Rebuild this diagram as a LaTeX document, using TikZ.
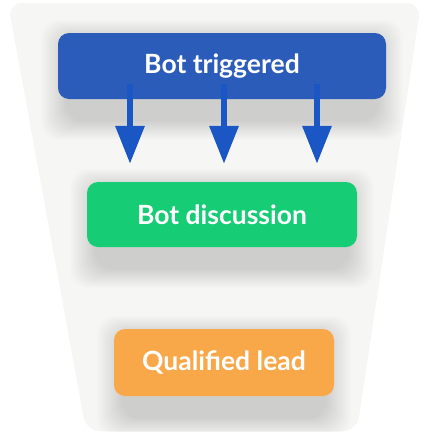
\documentclass[tikz,border=0pt]{standalone}
\usepackage{fontspec}
\setmainfont{Lato}
\usepackage{xcolor}
\usetikzlibrary{backgrounds,arrows.meta}

\definecolor{funnelgray}{HTML}{F6F6F5}
\definecolor{trigblue}{HTML}{2B5CB9}
\definecolor{arrowblue}{HTML}{1A56C4}
\definecolor{discgreen}{HTML}{16CC74}
\definecolor{leadorange}{HTML}{F8A848}

\pgfdeclarelayer{back}
\pgfsetlayers{back,background,main}

\tikzset{
  stage/.style={rectangle, rounded corners=11pt, text=white,
    font=\bfseries\fontsize{26.5}{30}\selectfont},
  haze/.style={fill=black, fill opacity=0.0075, rounded corners=18pt},
  push/.style={draw=arrowblue, line width=6.5pt,
    -{Triangle[width=28pt,length=38pt]}}
}

\begin{document}
\begin{tikzpicture}[x=1pt, y=-1pt]
  % Keep the page the size of the reference
  \useasboundingbox (0,0) rectangle (425,432);

  % Funnel in the background
  \begin{pgfonlayer}{back}
    \fill[funnelgray, rounded corners=14pt] (8,3) -- (421,3) -- (357,431) -- (86,431) -- cycle;
  \end{pgfonlayer}

  % The three stages
  \node[stage, fill=trigblue, minimum width=328pt, minimum height=66pt] (trig) at (222,66) {Bot triggered};
  \node[stage, fill=discgreen, minimum width=270pt, minimum height=65pt] (disc) at (222,214.5) {Bot discussion};
  \node[stage, fill=leadorange, minimum width=220pt, minimum height=67pt] (lead) at (224,362.5) {Qualified lead};

  % Soft shadows under the stages
  \begin{pgfonlayer}{background}
    \foreach \nm in {trig, disc, lead} {
      \foreach \k in {0,...,19} {
        \fill[haze] ([xshift=-1.3*\k pt+8pt, yshift=-6pt+1*\k pt]\nm.north west)
          rectangle ([xshift=1.3*\k pt-8pt, yshift=-22pt-1*\k pt]\nm.south east);
      }
    }
  \end{pgfonlayer}

  % Arrows out of the top stage
  \foreach \dx/\nm in {-92/a, 2/b, 95/c} {
    \coordinate (from\nm) at ([xshift=\dx pt, yshift=15pt]trig.south);
    \coordinate (to\nm) at ([xshift=\dx pt, yshift=18pt]disc.north);
    \draw[push] (from\nm) -- (to\nm);
  }
\end{tikzpicture}
\end{document}
